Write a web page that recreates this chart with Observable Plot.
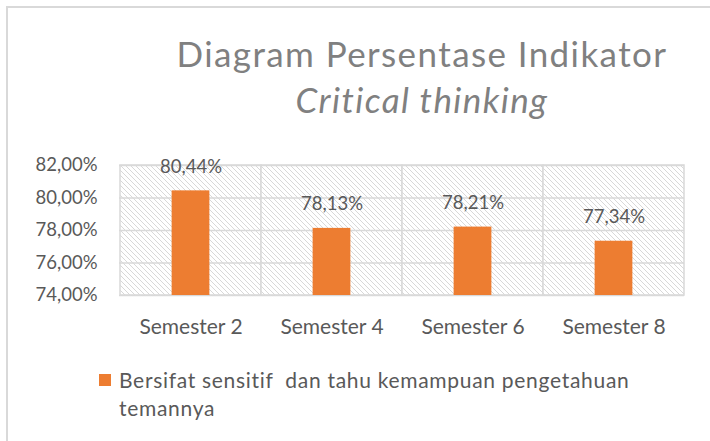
<!DOCTYPE html>
<html>
<head>
<meta charset="utf-8">
<script src="https://cdn.jsdelivr.net/npm/d3@7"></script>
<script src="https://cdn.jsdelivr.net/npm/@observablehq/plot@0.6"></script>
<style>
  html, body { margin: 0; padding: 0; background: #fff; }
  #wrap { position: relative; width: 710px; height: 441px; overflow: hidden; font-family: Lato, "Open Sans", sans-serif; }
  #frame { position: absolute; left: 6px; top: 6px; width: 900px; height: 900px; border-left: 2px solid #d9d9d9; border-top: 2px solid #d9d9d9; box-sizing: border-box; }
  .title { position: absolute; left: 122px; width: 600px; text-align: center; color: #808080; white-space: nowrap; font-size: 35px; line-height: 35px; font-weight: 400; letter-spacing: 1.4px; }
  #t1 { top: 36px; }
  #t2 { top: 82px; font-style: italic; }
  #chart { position: absolute; left: 0; top: 0; }
  #legend { position: absolute; left: 99px; top: 366px; width: 560px; color: #595959; font-size: 21px; line-height: 28px; display: flex; align-items: flex-start; }
  #legend .sw { flex: none; width: 12px; height: 12px; background: #ED7D31; margin-top: 8px; margin-right: 8px; }
  #legend .txt { white-space: pre-wrap; letter-spacing: 0.7px; }
</style>
</head>
<body>
<div id="wrap">
  <div id="frame"></div>
  <div id="chart"></div>
  <div class="title" id="t1"></div>
  <div class="title" id="t2"></div>
  <div id="legend"></div>
</div>
<script>
const titleText = "Diagram Persentase Indikator";
const subtitleText = "Critical thinking";
const categories = ["Semester 2", "Semester 4", "Semester 6", "Semester 8"];
const values = [80.44, 78.13, 78.21, 77.34];
const yTicks = [74, 76, 78, 80, 82];
const seriesName = "Bersifat sensitif  dan tahu kemampuan pengetahuan temannya";
const barColor = "#ED7D31";

const fmt = v => v.toFixed(2).replace(".", ",") + "%";
const data = categories.map((c, i) => ({category: c, value: values[i]}));

document.getElementById("t1").textContent = titleText;
document.getElementById("t2").textContent = subtitleText;
document.getElementById("legend").innerHTML = `<span class="sw"></span><span class="txt"></span>`;
document.querySelector("#legend .txt").textContent = seriesName;

const hatchDefs = () => {
  const defs = d3.create("svg:defs");
  const p = defs.append("pattern")
    .attr("id", "hatch")
    .attr("patternUnits", "userSpaceOnUse")
    .attr("width", 5).attr("height", 5);
  p.append("rect").attr("width", 5).attr("height", 5).attr("fill", "#fff");
  p.append("path")
    .attr("d", "M-1,-1L6,6M-1,4L1,6M4,-1L6,1")
    .attr("stroke", "#d4d4d4").attr("stroke-width", 0.9);
  return defs.node();
};

const W = 710, H = 360;
const plotLeft = 119, plotRight = 684;
const bandW = (plotRight - plotLeft) / categories.length;
const barW = 38;
const inset = (bandW - barW) / 2;

const chart = Plot.plot({
  width: W,
  height: H,
  marginLeft: plotLeft,
  marginRight: W - plotRight,
  marginTop: 165,
  marginBottom: H - 295,
  style: {fontFamily: "Lato, 'Open Sans', sans-serif", color: "#595959", background: "transparent"},
  x: {domain: categories, padding: 0, label: null},
  y: {domain: [74, 82], ticks: yTicks, label: null, tickFormat: fmt},
  marks: [
    hatchDefs,
    Plot.cell(categories, {x: d => d, fill: "url(#hatch)", stroke: "#d9d9d9", strokeWidth: 1.5}),
    Plot.gridY(yTicks, {stroke: "#d9d9d9", strokeOpacity: 1, strokeWidth: 1.5}),
    Plot.barY(data, {x: "category", y: "value", fill: barColor, insetLeft: inset, insetRight: inset, clip: true}),
    Plot.text(data, {x: "category", y: "value", text: d => fmt(d.value), dy: -18, lineAnchor: "bottom", fontSize: 18.5, fill: "#595959"}),
    Plot.axisY(yTicks, {tickSize: 0, tickPadding: 22, fontSize: 18.5, tickFormat: fmt, fill: "#595959"}),
    Plot.axisX({tickSize: 0, tickPadding: 24, fontSize: 21, fill: "#595959"})
  ]
});
document.getElementById("chart").appendChild(chart);
</script>
</body>
</html>
